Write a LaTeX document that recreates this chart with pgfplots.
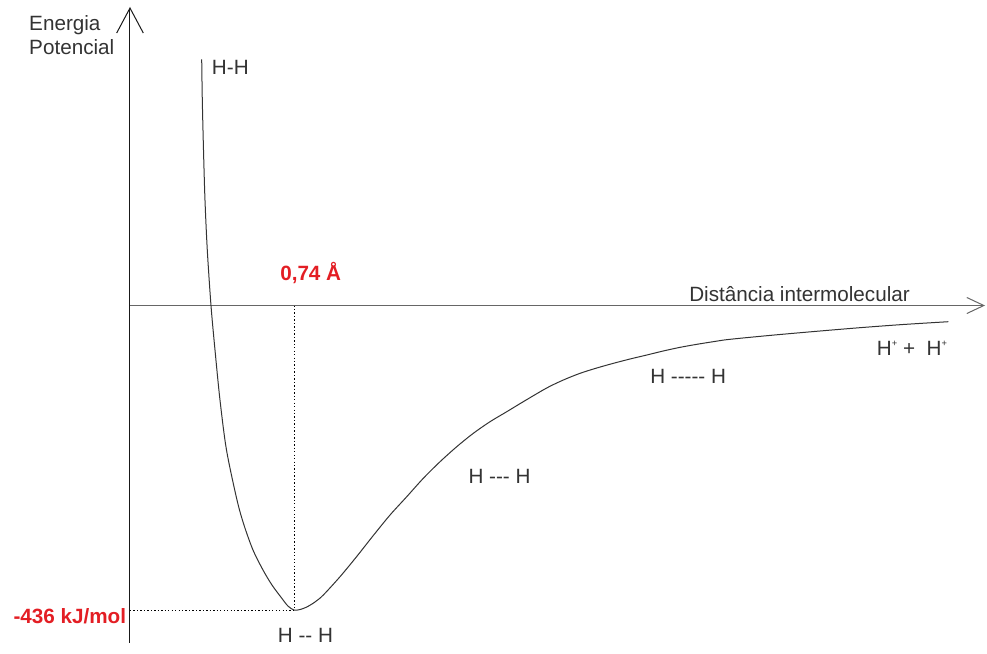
\documentclass[border=0pt]{standalone}
\usepackage{fontspec}
\setmainfont{Liberation Sans}
\usepackage{xcolor}
\usepackage{tikz}
\usetikzlibrary{arrows.meta}
\usepackage{pgfplots}
\pgfplotsset{compat=1.18}
\definecolor{labelred}{HTML}{E31E24}
\definecolor{ink}{HTML}{333333}

% r in angstrom, E in kJ/mol
\pgfplotstableread{
r      E
0.3236  352.5
0.3263  294.2
0.3317  222.7
0.3384  151.1
0.3488   79.5
0.3655    0.0
0.3836  -63.7
0.4061 -135.3
0.4355 -206.9
0.4829 -278.5
0.5144 -314.3
0.5551 -350.1
0.6002 -378.7
0.6408 -400.2
0.6859 -419.5
0.7130 -430.3
0.7400 -436.0
0.7671 -435.3
0.7974 -431.7
0.8348 -424.5
0.8723 -414.5
0.9477 -388.3
1.0230 -359.4
1.0979 -329.3
1.1733 -300.0
1.2487 -273.8
1.3236 -247.4
1.3989 -223.7
1.4743 -202.2
1.5492 -183.0
1.6245 -166.4
1.6999 -152.1
1.7748 -137.7
1.8804 -118.1
1.9553 -106.7
2.0307  -97.1
2.1060  -89.5
2.1810  -82.8
2.2563  -76.6
2.3317  -70.9
2.4066  -65.1
2.4819  -59.9
2.5573  -55.6
2.6322  -51.8
2.7076  -48.4
2.9332  -41.5
3.2491  -32.9
3.4747  -27.5
3.6927  -23.2
}\potential

\begin{document}
\begin{tikzpicture}
\fontsize{15.5}{18}\selectfont
\begin{axis}[
  scale only axis,
  width=641.25pt,
  height=476.9pt,
  xmin=0, xmax=3.8583,
  ymin=-483, ymax=427.4,
  axis lines=middle,
  xtick=\empty, ytick=\empty,
  clip=false,
  x axis line style={draw=black!60, line width=0.75pt,
    -{Straight Barb[length=12.75pt,width=12pt]}},
  y axis line style={draw=black!90, line width=0.75pt,
    -{Straight Barb[length=18.75pt,width=20pt]}},
]
\path (axis cs:-0.5866,437.4) rectangle (axis cs:3.8673,-497.6);

\addplot[draw=black!80, line width=0.75pt, smooth, no markers] table[x=r, y=E] {\potential};

\addplot[draw=black, line width=0.7pt, dash pattern=on 1pt off 1.6pt, no markers]
  coordinates {(0.74,0) (0.74,-436)};
\addplot[draw=black, line width=0.7pt, dash pattern=on 1pt off 1.6pt, no markers]
  coordinates {(0,-436) (0.74,-436)};

\node[anchor=base west, inner sep=0, text=ink] at (axis cs:-0.4558,393.5) {Energia};
\node[anchor=base west, inner sep=0, text=ink] at (axis cs:-0.4558,359.7) {Potencial};
\node[anchor=base west, inner sep=0, text=ink] at (axis cs:0.3687,330.1) {H-H};
\node[anchor=base west, inner sep=0, text=labelred, font=\bfseries] at (axis cs:0.6769,35.1) {0,74 Å};
\node[anchor=base west, inner sep=0, text=ink] at (axis cs:2.5226,5.4) {Distância intermolecular};
\node[anchor=base west, inner sep=0, text=ink] at (axis cs:3.3696,-70.9)
  {H\raisebox{0.75ex}{\fontsize{7}{7}\selectfont +} +\ \ H\raisebox{0.75ex}{\fontsize{7}{7}\selectfont +}};
\node[anchor=base west, inner sep=0, text=ink] at (axis cs:2.3466,-112.3) {H -{}-{}-{}-{}- H};
\node[anchor=base west, inner sep=0, text=ink] at (axis cs:1.5266,-254.6) {H -{}-{}- H};
\node[anchor=base west, inner sep=0, text=ink] at (axis cs:0.6665,-482.5) {H -{}- H};
\node[anchor=base west, inner sep=0, text=labelred, font=\bfseries] at (axis cs:-0.5266,-454.6) {-436 kJ/mol};
\end{axis}
\end{tikzpicture}
\end{document}
